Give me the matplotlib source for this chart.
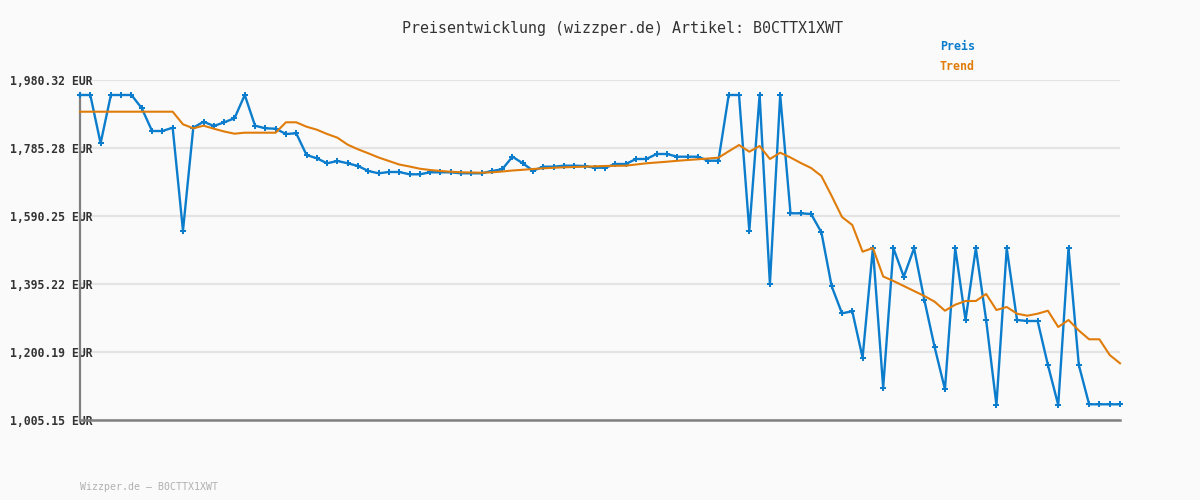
import matplotlib.pyplot as plt
import numpy as np

# price history (EUR), one value per data point
preis = [1937.30, 1937.30, 1798.77, 1937.30, 1937.30, 1937.30, 1899.15, 1834.04, 1834.04, 1843.51,
         1548.09, 1843.51, 1860.72, 1848.39, 1859.00, 1870.47, 1937.30, 1849.25, 1841.79, 1840.64,
         1825.44, 1827.45, 1765.21, 1755.74, 1741.40, 1748.00, 1741.40, 1733.66, 1719.32, 1712.72,
         1716.45, 1716.45, 1709.85, 1709.85, 1715.59, 1715.59, 1715.59, 1712.72, 1712.72, 1712.72,
         1719.32, 1724.19, 1760.33, 1741.40, 1720.18, 1731.65, 1731.65, 1734.52, 1734.52, 1733.66,
         1728.78, 1728.78, 1739.40, 1739.40, 1753.74, 1753.74, 1768.08, 1768.08, 1760.33, 1760.33,
         1760.33, 1748.86, 1748.86, 1937.30, 1937.30, 1548.09, 1937.30, 1395.22, 1937.30, 1598.00,
         1598.00, 1595.99, 1543.50, 1388.62, 1311.18, 1316.92, 1183.83, 1497.61, 1097.79, 1497.61,
         1416.15, 1497.61, 1349.33, 1213.66, 1093.20, 1497.61, 1291.96, 1497.61, 1291.96, 1048.17,
         1497.61, 1291.96, 1289.10, 1289.10, 1162.90, 1048.17, 1497.61, 1162.90, 1050.18, 1050.18,
         1050.18, 1050.18]

trend = [1889.40, 1889.40, 1889.40, 1889.40, 1889.40, 1889.40, 1889.40, 1889.40, 1889.40, 1889.40,
         1853.26, 1841.79, 1849.25, 1840.64, 1832.61, 1826.30, 1829.17, 1829.17, 1829.17, 1829.17,
         1859.00, 1859.00, 1846.38, 1837.77, 1825.44, 1814.83, 1794.75, 1781.56, 1770.08, 1758.04,
         1748.00, 1737.96, 1732.23, 1725.92, 1722.19, 1719.32, 1717.31, 1715.59, 1715.02, 1714.44,
         1715.59, 1717.88, 1720.75, 1722.76, 1725.05, 1727.06, 1728.50, 1729.93, 1730.79, 1731.65,
         1732.80, 1733.66, 1734.23, 1734.52, 1737.96, 1741.40, 1743.70, 1745.99, 1748.57, 1750.87,
         1752.88, 1755.17, 1757.46, 1775.82, 1793.89, 1774.67, 1791.02, 1753.74, 1771.81, 1758.04,
         1742.26, 1727.92, 1704.98, 1647.61, 1587.38, 1564.44, 1487.86, 1498.47, 1416.73, 1403.82,
         1389.48, 1375.14, 1360.80, 1344.45, 1318.64, 1335.85, 1346.46, 1346.46, 1366.54, 1320.65,
         1329.25, 1310.03, 1304.30, 1310.03, 1318.64, 1271.89, 1291.96, 1261.85, 1236.61, 1236.61,
         1191.58, 1167.77]

y_ticks = [1005.15, 1200.19, 1395.22, 1590.25, 1785.28, 1980.32]
artikel = "B0CTTX1XWT"

BG = "#fafafa"
BLUE = "#0b7dcc"
ORANGE = "#e07c0a"
MONO = "DejaVu Sans Mono"

fig = plt.figure(figsize=(12, 5), dpi=100, facecolor=BG)
ax = fig.add_axes([80 / 1200, 80 / 500, 1040 / 1200, 340 / 500], facecolor=BG)

x = np.arange(len(preis))
ax.plot(x, preis, color=BLUE, lw=1.7, marker="P", ms=4, mew=0,
        clip_on=False, zorder=3)
ax.plot(x, trend, color=ORANGE, lw=1.5, clip_on=False, zorder=4)

ax.set_xlim(0, len(preis) - 1)
ax.set_ylim(y_ticks[0], y_ticks[-1])

# grid + axes lines
ax.set_yticks(y_ticks)
ax.set_yticklabels([f"{v:,.2f} EUR" for v in y_ticks], fontfamily=MONO,
                   fontweight="bold", fontsize=8.3, color="#333333", ha="left")
ax.tick_params(axis="y", length=0, pad=50.4)
ax.set_xticks([])
ax.grid(axis="y", color="#e4e4e4", lw=1.6, zorder=0)
for side in ["top", "right"]:
    ax.spines[side].set_visible(False)
ax.spines["left"].set_color("#808080")
ax.spines["left"].set_linewidth(1.6)
ax.spines["left"].set_bounds(y_ticks[0], 1943)
ax.spines["bottom"].set_color("#808080")
ax.spines["bottom"].set_linewidth(1.8)
ax.set_axisbelow(True)

fig.text(623 / 1200, 1 - 28 / 500, f"Preisentwicklung (wizzper.de) Artikel: {artikel}",
         ha="center", va="center", fontfamily=MONO, fontsize=10.8, color="#333333")

# legend as coloured text, top right
fig.text(975 / 1200, 1 - 47 / 500, "Preis", ha="right", va="center", fontfamily=MONO,
         fontweight="bold", fontsize=8.4, color=BLUE)
fig.text(975 / 1200, 1 - 67 / 500, "Trend", ha="right", va="center", fontfamily=MONO,
         fontweight="bold", fontsize=8.4, color=ORANGE)

fig.text(80 / 1200, 1 - 487 / 500, f"Wizzper.de \u2013 {artikel}", ha="left", va="center",
         fontfamily=MONO, fontsize=7.1, color="#b0b0b0")

fig.savefig("out.png", dpi=100, facecolor=BG)
